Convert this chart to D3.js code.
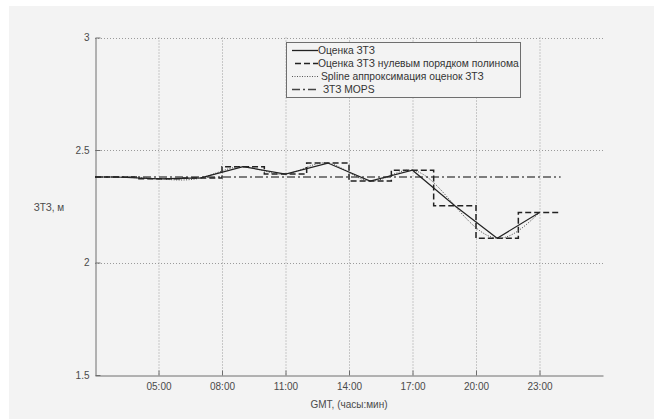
<!DOCTYPE html>
<html lang="ru">
<head>
<meta charset="UTF-8">
<title>ЗТЗ</title>
<style>
  body { margin: 0; background: #fff; }
  svg { display: block; font-family: "Liberation Sans", Arial, sans-serif; }
</style>
</head>
<body>
<div id="chart"></div>
<script src="https://cdn.jsdelivr.net/npm/d3@7"></script>
<script>
// hours (GMT) of the estimates
var hours = [3, 5, 7, 9, 11, 13, 15, 17, 19, 21, 23];
// estimates of ZTD, m
var ztd = [2.380, 2.372, 2.376, 2.426, 2.393, 2.442, 2.362, 2.410, 2.252, 2.108, 2.222];
// MOPS model value
var mopsHours = [2, 24];
var mops = [2.38, 2.38];
var xTicks = [5, 8, 11, 14, 17, 20, 23];
var yTicks = [1.5, 2, 2.5, 3];
var legendLabels = ["Оценка ЗТЗ", "Оценка ЗТЗ нулевым порядком полинома", "Spline аппроксимация оценок ЗТЗ", "ЗТЗ MOPS"];

var W = 654, H = 419;
var svg = d3.select("#chart").append("svg").attr("width", W).attr("height", H);

svg.append("rect").attr("x", 9).attr("y", 6).attr("width", W - 9).attr("height", H - 6).attr("fill", "#f3f3f3");

var x = d3.scaleLinear().domain([2, 26]).range([95, 603]);
var y = d3.scaleLinear().domain([1.5, 3]).range([375, 37.5]);

function fmt(h) { return (h < 10 ? "0" : "") + h + ":00"; }

// grid
var grid = svg.append("g").attr("stroke", "#9a9a9a").attr("stroke-dasharray", "1,2").attr("stroke-width", 1);
grid.selectAll("line.v").data(xTicks).enter().append("line")
  .attr("x1", d => x(d) + 0.5).attr("x2", d => x(d) + 0.5)
  .attr("y1", y(3)).attr("y2", y(1.5));
grid.selectAll("line.h").data(yTicks.slice(1)).enter().append("line")
  .attr("x1", x(2)).attr("x2", x(26))
  .attr("y1", d => Math.round(y(d)) + 0.5).attr("y2", d => Math.round(y(d)) + 0.5);

// axes
var xAxis = svg.append("g").attr("transform", "translate(0," + (Math.round(y(1.5)) + 0.5) + ")")
  .call(d3.axisBottom(x).tickValues(xTicks).tickFormat(fmt).tickSizeInner(-5).tickSizeOuter(0).tickPadding(7));
var yAxis = svg.append("g").attr("transform", "translate(" + (x(2) + 0.5) + ",0)")
  .call(d3.axisLeft(y).tickValues(yTicks).tickFormat(d3.format("")).tickSizeInner(-5).tickSizeOuter(0).tickPadding(6));
[xAxis, yAxis].forEach(function (a) {
  a.select(".domain").attr("stroke", "#6e6e6e");
  a.selectAll(".tick line").attr("stroke", "#6e6e6e");
  a.selectAll(".tick text").attr("fill", "#4a4a4a").attr("font-size", 10).attr("font-family", "Liberation Sans, Arial, sans-serif");
});

svg.append("text").attr("x", 49).attr("y", 211).attr("text-anchor", "middle")
  .attr("font-size", 10).attr("fill", "#4a4a4a").text("ЗТЗ, м");
svg.append("text").attr("x", 349).attr("y", 408).attr("text-anchor", "middle")
  .attr("font-size", 10).attr("fill", "#4a4a4a").text("GMT, (часы:мин)");

var pts = hours.map((h, i) => ({ h: h, v: ztd[i] }));
var line = d3.line().x(d => x(d.h)).y(d => y(d.v));

// MOPS
svg.append("path")
  .datum(mopsHours.map((h, i) => ({ h: h, v: mops[i] })))
  .attr("d", line).attr("fill", "none").attr("stroke", "#555")
  .attr("stroke-width", 1.6).attr("stroke-dasharray", "8,3,2,3");

// zero order hold
var stepPts = pts.map(d => ({ h: d.h - 1, v: d.v }));
stepPts.push({ h: pts[pts.length - 1].h + 1, v: pts[pts.length - 1].v });
svg.append("path").datum(stepPts)
  .attr("d", d3.line().x(d => x(d.h)).y(d => y(d.v)).curve(d3.curveStepAfter))
  .attr("fill", "none").attr("stroke", "#222").attr("stroke-width", 1.5).attr("stroke-dasharray", "6,3");

// spline
svg.append("path").datum(pts)
  .attr("d", d3.line().x(d => x(d.h)).y(d => y(d.v)).curve(d3.curveNatural))
  .attr("fill", "none").attr("stroke", "#444").attr("stroke-width", 1).attr("stroke-dasharray", "1,1.5");

// estimates
svg.append("path").datum([{ h: 2, v: ztd[0] }].concat(pts))
  .attr("d", line).attr("fill", "none").attr("stroke", "#222").attr("stroke-width", 1.2);

// legend
var lg = svg.append("g");
lg.append("rect").attr("x", 286.5).attr("y", 42.5).attr("width", 234).attr("height", 55)
  .attr("fill", "#f3f3f3").attr("stroke", "#6e6e6e");
var styles = [
  { dash: null, color: "#222", w: 1.3, x0: 292, tx: 318 },
  { dash: "6,3", color: "#222", w: 1.5, x0: 295, tx: 318 },
  { dash: "1,1.5", color: "#555", w: 1, x0: 292, tx: 321 },
  { dash: "8,3,2,3", color: "#444", w: 1.6, x0: 292, tx: 323 }
];
var ly = [50, 63, 76, 89];
legendLabels.forEach(function (t, i) {
  var s = styles[i];
  lg.append("line").attr("x1", s.x0).attr("x2", 318).attr("y1", ly[i] + 0.5).attr("y2", ly[i] + 0.5)
    .attr("stroke", s.color).attr("stroke-width", s.w).attr("stroke-dasharray", s.dash);
  lg.append("text").attr("x", s.tx).attr("y", ly[i] + 4).attr("font-size", 10.3).attr("fill", "#333").text(t);
});
</script>
</body>
</html>
